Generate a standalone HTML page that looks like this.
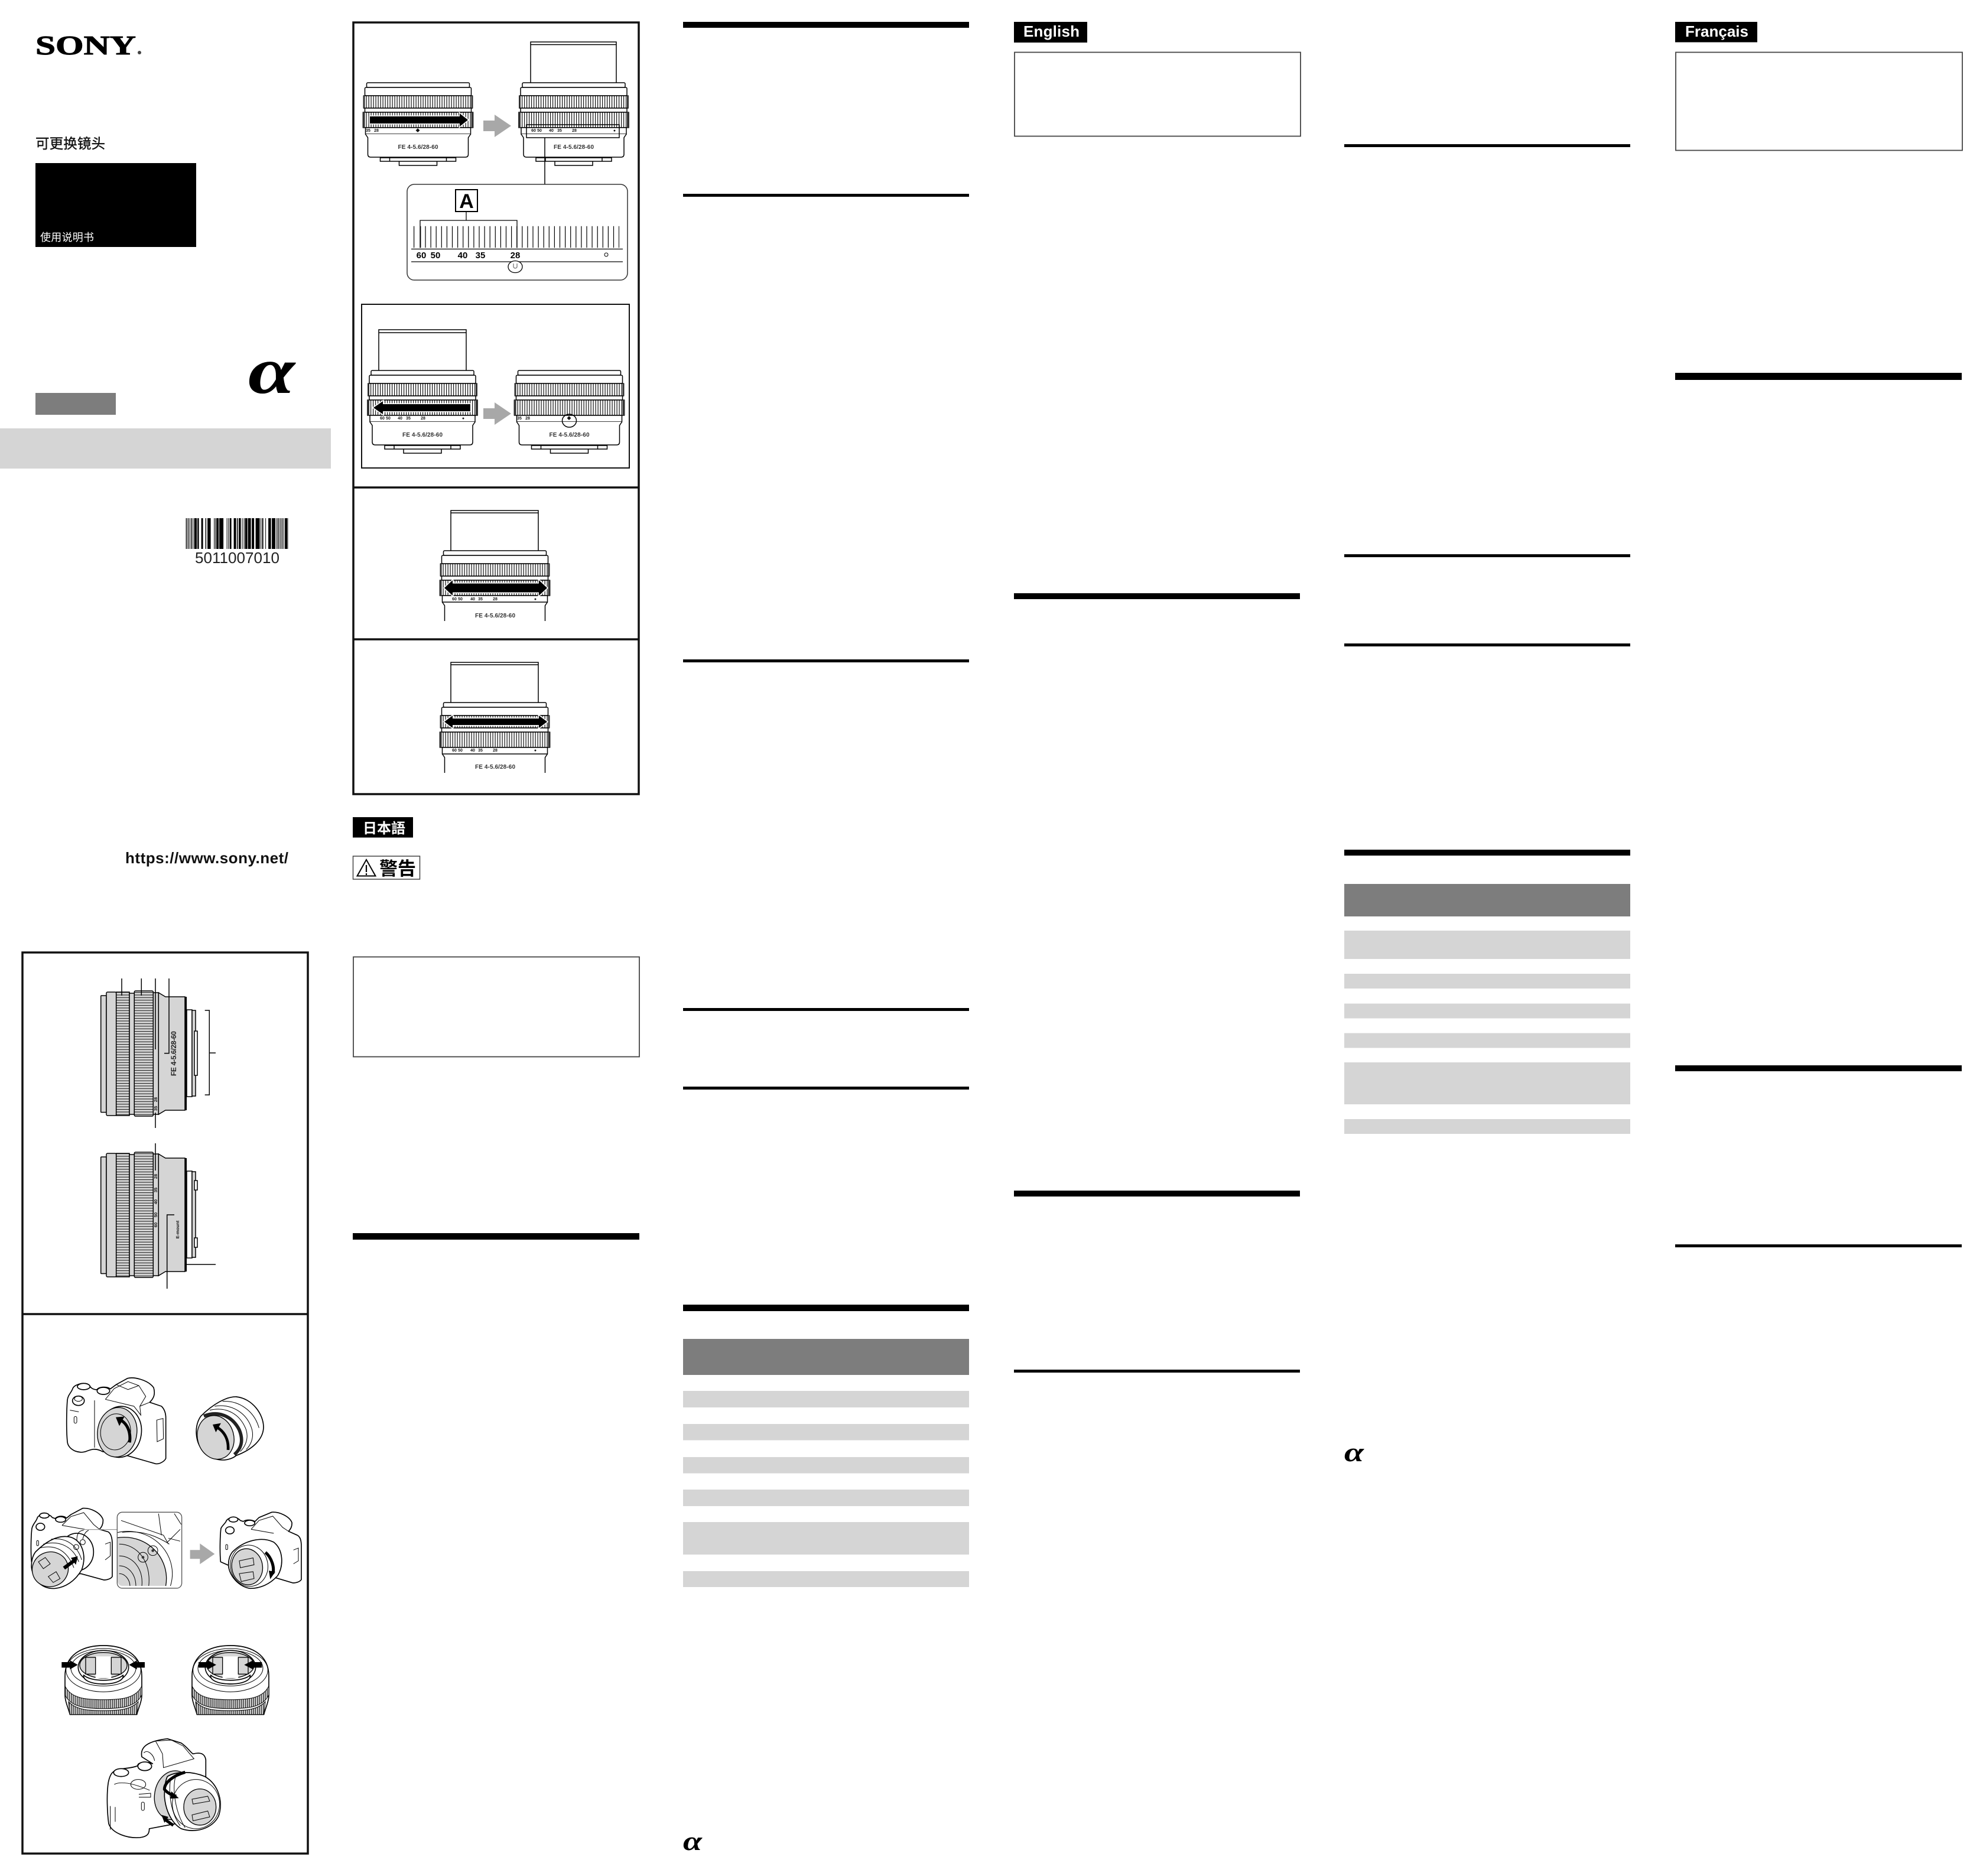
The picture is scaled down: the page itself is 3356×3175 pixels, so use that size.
<!DOCTYPE html>
<html lang="zh"><head><meta charset="utf-8"><title>SONY FE 4-5.6/28-60</title>
<style>html,body{margin:0;padding:0;background:#fff;width:3356px;height:3175px;overflow:hidden}svg{display:block}
text{font-family:"Liberation Sans","Noto Sans CJK SC",sans-serif}
.j{font-family:"Liberation Sans","Noto Sans CJK JP",sans-serif;font-weight:bold}
.fe{font-size:10px;font-weight:bold;fill:#333;text-anchor:middle}
.sc{font-size:7px;font-weight:bold;fill:#111;text-anchor:middle}
.n{font-size:15px;font-weight:bold;fill:#000;text-anchor:middle}
.a{font-family:"Liberation Serif","DejaVu Serif",serif;font-style:italic;font-weight:bold}
.o{fill:#fff;stroke:#000;stroke-width:1.5}
.g{fill:#d5d5d5;stroke:#000;stroke-width:1.5}
.k{stroke:#000;stroke-width:1.5}
.z{fill:#fff;stroke:#000;stroke-width:5;stroke-linejoin:round}
.zg{fill:#d5d5d5;stroke:#000;stroke-width:4}
.zn{fill:none;stroke:#000;stroke-width:3}
.ar{paint-order:stroke;stroke:#fff;stroke-width:3}
</style></head><body>
<svg xmlns="http://www.w3.org/2000/svg" width="3356" height="3175" viewBox="0 0 3356 3175">
<defs>
<pattern id="kv" width="4" height="10" patternUnits="userSpaceOnUse"><rect width="4" height="10" fill="#fff"/><rect width="1.2" height="10" fill="#111"/></pattern>
<pattern id="kh" width="10" height="4.4" patternUnits="userSpaceOnUse"><rect width="10" height="4.4" fill="#d5d5d5"/><rect width="10" height="1.1" fill="#222"/></pattern>
<pattern id="kz" width="10" height="10" patternUnits="userSpaceOnUse"><rect width="10" height="10" fill="#ddd"/><rect width="4" height="10" fill="#222"/></pattern>
<g id="lt">
<rect class="o" x="-87" y="0" width="174" height="8" rx="2"/>
<rect class="o" x="-90" y="8" width="180" height="14" rx="2"/>
<rect x="-92" y="22" width="184" height="21" fill="url(#kv)" class="k"/>
<rect x="-93" y="22" width="3" height="21" fill="#333"/><rect x="90" y="22" width="3" height="21" fill="#333"/>
<rect class="o" x="-90" y="43" width="180" height="7"/>
<rect x="-93" y="50" width="186" height="26" fill="url(#kv)" class="k"/>
<rect x="-94" y="50" width="4" height="26" fill="#333"/><rect x="90" y="50" width="4" height="26" fill="#333"/>
<rect class="o" x="-89" y="76" width="178" height="11"/>
</g>
<g id="lb">
<path class="o" d="M-89 87L-85 93V121Q-85 126 -80 126H80Q85 126 85 121V93L89 87"/>
<path class="o" d="M-64 127H64V133H-64Z M-32 133H32V140H-32Z M-48 126V133M48 126V133"/>
</g>
<g id="lc"><path class="o" d="M-89 87L-85 93V119M89 87L85 93V119" fill="none"/></g>
<g id="ls">
<rect class="g" x="-29.3" y="6" width="9.3" height="197.5" rx="1"/>
<rect class="g" x="-20" y="0" width="16.7" height="209" rx="2"/>
<rect x="-3.3" y="0" width="22.3" height="209" fill="url(#kh)" class="k"/>
<rect class="g" x="19" y="2" width="8.3" height="205"/>
<rect x="27.3" y="-2" width="32" height="212" rx="2" fill="url(#kh)" class="k"/>
<rect class="g" x="59.3" y="1" width="9" height="206"/>
<path class="g" d="M68.3 1L80 8H113V200H80L68.3 207Z"/>
<rect x="113" y="8" width="3" height="192" fill="#000"/>
<rect class="o" x="116" y="30" width="9" height="147"/>
<rect class="g" x="125" y="31" width="6" height="145"/>
</g>
</defs>

<!-- cover -->
<text x="60" y="92" font-size="46" font-weight="bold" textLength="170" lengthAdjust="spacingAndGlyphs" style="font-family:'Liberation Serif',serif" stroke="#000" stroke-width="1">SONY</text>
<circle cx="236" cy="89" r="3" fill="#444"/>
<text x="60" y="251" font-size="23.5" fill="#111" stroke="#111" stroke-width=".4" textLength="118">可更换镜头</text>
<rect x="60" y="276" width="272" height="142" fill="#000"/>
<text x="68" y="408" font-size="18" fill="#fff" textLength="91">使用说明书</text>
<rect x="60" y="665" width="136" height="37" fill="#7d7d7d"/>
<rect x="0" y="725" width="560" height="68" fill="#d5d5d5"/>
<text class="a" x="420" y="665" font-size="112" textLength="79" lengthAdjust="spacingAndGlyphs">α</text>
<line x1="314.6" y1="903" x2="488" y2="903" stroke="#000" stroke-width="52" stroke-dasharray="1.5 1.5 1.5 1.5 1 1.5 1.5 1.5 1 1.5 4.5 1 2.5 4 3 4 1.5 2 5.5 5.5 1 1 1 1 4 1 7 5.5 1 1.5 1 1.5 3 4 4 1.5 1.5 1.5 3.5 2 1 2 1 1 4 1 5 1.5 4 2.5 7 1.5 1 1.5 2 3.5 1 4 4.5 1.5 6 2"/>
<text x="330" y="953" font-size="26" textLength="143" fill="#222">5011007010</text>
<text x="212" y="1461" font-size="26" font-weight="bold" textLength="276" fill="#111">https://www.sony.net/</text>

<!-- left lower frame -->
<rect x="38" y="1612" width="483" height="1525" fill="none" stroke="#111" stroke-width="3.5"/>
<line x1="38" y1="2224" x2="521" y2="2224" stroke="#111" stroke-width="3.5"/>
<g transform="translate(200,1679)"><use href="#ls"/></g>
<g transform="translate(200,1952)"><use href="#ls"/></g>
<g fill="none" stroke="#000" stroke-width="1.5">
<path d="M206 1656V1685M239.3 1656V1685M263 1656V1776M286 1656V1782.6H278M263 1883V1909M346.7 1710H354.3V1853H346.7M354.3 1782H365M263 1935V1981M282.7 2181V2056H295M313 2140H365"/>
</g>
<text transform="translate(298,1783) rotate(-90)" font-size="12" font-weight="bold" text-anchor="middle" textLength="76" fill="#222">FE 4-5.6/28-60</text>
<g font-size="7.5" font-weight="bold" text-anchor="middle" fill="#111">
<text transform="translate(266,1861) rotate(-90)">28</text><text transform="translate(266,1876) rotate(-90)">35</text>
<text transform="translate(266,1991) rotate(-90)">28</text><text transform="translate(266,2014) rotate(-90)">35</text>
<text transform="translate(266,2034) rotate(-90)">40</text><text transform="translate(266,2056) rotate(-90)">50</text><text transform="translate(266,2073) rotate(-90)">60</text>
<text transform="translate(303,2081) rotate(-90)">E-mount</text></g>
<rect x="329" y="1745" width="5" height="75" class="o"/>
<rect x="329" y="1998" width="5" height="16" class="o"/><rect x="329" y="2095" width="5" height="16" class="o"/>

<!-- cameras: zoom coords -->
<g transform="translate(30,2280) scale(.3333)">
<!-- camera A -->
<path class="z" d="M252 480C246 420 248 320 252 268C256 240 272 232 280 208C290 188 345 172 365 195C372 212 392 216 402 216C412 200 455 198 470 212L500 190L558 158C590 150 660 165 690 205C700 240 690 260 670 280L730 300C745 315 752 335 752 360L752 565C745 580 720 595 700 592L560 552L430 530C395 510 370 520 350 528C310 545 255 520 252 480Z"/>
<path class="zn" d="M445 265L490 210L560 175L615 195L650 250L620 300L625 345L590 300L445 265M500 190L560 215L615 195M620 300L670 280M390 270V510M265 320L310 328M706 370L738 362L740 465L708 480Z"/>
<ellipse class="z" cx="335" cy="200" rx="32" ry="16"/><ellipse class="z" cx="435" cy="222" rx="32" ry="18"/>
<ellipse class="z" cx="308" cy="272" rx="30" ry="24"/><ellipse class="zn" cx="308" cy="262" rx="20" ry="13"/>
<rect class="zn" x="286" y="352" width="14" height="34" rx="7"/>
<ellipse class="z" cx="520" cy="430" rx="108" ry="130" transform="rotate(8 520 430)"/>
<ellipse class="zg" cx="505" cy="432" rx="100" ry="126" transform="rotate(8 505 432)"/>
<ellipse class="zn" cx="497" cy="430" rx="76" ry="92" transform="rotate(8 497 430)"/>
<path d="M568 484C576 430 555 385 518 368" fill="none" stroke="#000" stroke-width="15"/><path d="M498 356L542 352L516 400Z"/>
<!-- lens B -->
<path class="z" d="M930 350C990 290 1060 250 1110 252C1190 260 1250 340 1248 410C1245 470 1190 520 1110 550C1060 590 980 575 940 525C900 480 895 400 930 350Z"/>
<path class="zn" d="M975 320C1060 300 1130 340 1160 420C1175 470 1150 510 1130 530M1000 300C1080 285 1165 330 1190 420C1200 465 1180 500 1160 520M1040 275C1120 270 1200 320 1225 410"/>
<path d="M945 350C1020 320 1090 350 1125 420C1150 480 1130 520 1100 545" fill="none" stroke="#222" stroke-width="17"/>
<ellipse class="zg" cx="1005" cy="458" rx="92" ry="112" transform="rotate(-15 1005 458)"/>
<path d="M1068 522C1072 470 1050 430 1014 408" fill="none" stroke="#000" stroke-width="14"/><path d="M990 393L1032 386L1006 432Z"/>
<!-- camera C -->
<g>
<path class="z" d="M70 1090C65 1030 68 950 72 920C78 895 95 885 100 865C115 840 165 845 175 865L190 870C205 855 235 855 248 868L270 850L330 818C370 815 420 840 433 875C435 900 425 915 415 925L460 938C478 950 480 980 480 1000L480 1165C470 1180 440 1185 430 1180L320 1150L120 1190Z"/>
<path class="zn" d="M225 905L270 860L335 840L385 900L415 925M225 905L340 925M444 1000L470 990V1060L444 1080"/>
<ellipse class="z" cx="135" cy="855" rx="24" ry="13"/><ellipse class="z" cx="218" cy="875" rx="26" ry="14"/><ellipse class="z" cx="115" cy="912" rx="22" ry="18"/>
<rect class="zn" x="96" y="982" width="10" height="26" rx="5"/>
<ellipse class="z" cx="300" cy="1040" rx="85" ry="95"/>
<path class="z" d="M90 1040C150 980 210 950 270 965C330 985 350 1060 325 1130C290 1190 240 1220 190 1225C130 1230 80 1190 70 1120C68 1090 75 1060 90 1040Z"/>
<path class="zn" d="M130 1000C210 980 280 1010 310 1090M170 975C240 965 300 1000 325 1080M110 1020C190 1000 250 1030 285 1120"/>
<ellipse class="zg" cx="165" cy="1128" rx="92" ry="88" transform="rotate(-20 165 1128)"/>
<path class="zn" d="M105 1090L140 1068L165 1100L130 1125ZM155 1165L195 1140L215 1175L180 1195Z"/>
<path d="M235 1122L285 1085" stroke="#000" stroke-width="18"/><path d="M305 1062L270 1070L295 1105Z"/>
<circle class="zn" cx="297" cy="1015" r="13"/><circle class="zn" cx="330" cy="990" r="13"/>
<path class="zn" d="M300 980C300 950 310 930 335 930M330 975C335 955 345 935 360 930"/>
</g>
<line x1="340" y1="926" x2="505" y2="926" stroke="#999" stroke-width="4"/>
<!-- callout -->
<clipPath id="cc"><rect x="507" y="840" width="325" height="372" rx="24"/></clipPath>
<rect x="505" y="838" width="328" height="386" rx="26" fill="#fff" stroke="#555" stroke-width="4"/>
<g clip-path="url(#cc)">
<ellipse cx="560" cy="1150" rx="225" ry="215" fill="#fff" stroke="#000" stroke-width="3"/>
<ellipse cx="540" cy="1175" rx="215" ry="210" fill="#d5d5d5" stroke="#000" stroke-width="4"/>
<path class="zn" d="M525 880L740 955L765 1000M715 845L730 955M795 845L830 900M530 940C620 930 690 950 770 1000M515 1000C600 1000 680 1080 665 1215M515 1060C580 1060 640 1120 630 1215M515 1110C560 1110 600 1150 600 1215M515 1150C545 1150 570 1180 570 1215M760 990L825 925M765 970L825 985"/>
<circle class="zn" cx="636" cy="1067" r="25"/><circle class="zn" cx="686" cy="1033" r="25"/>
<circle cx="636" cy="1067" r="7" fill="#333"/><circle cx="686" cy="1033" r="7" fill="#333"/>
</g>
<path d="M875 1030H925V997L1000 1050L925 1102V1075H875Z" fill="#a8a8a8"/>
<!-- camera D -->
<g>
<path class="z" d="M1030 1090C1025 1030 1028 950 1032 920C1038 905 1055 895 1060 880C1075 860 1115 860 1130 880L1145 885C1160 875 1185 875 1205 885L1225 865L1290 838C1330 835 1380 860 1392 890C1394 910 1385 925 1375 935L1420 955C1438 965 1440 990 1440 1010L1440 1180C1430 1195 1400 1200 1390 1195L1290 1165L1120 1130Z"/>
<path class="zn" d="M1185 925L1225 880L1295 858L1345 915L1375 935M1185 925L1300 945M1400 1030L1425 1020V1085L1400 1100"/>
<ellipse class="z" cx="1095" cy="875" rx="23" ry="13"/><ellipse class="z" cx="1178" cy="893" rx="26" ry="14"/><ellipse class="z" cx="1077" cy="930" rx="22" ry="18"/>
<rect class="zn" x="1056" y="1002" width="10" height="26" rx="5"/>
<path class="z" d="M1090 1040C1150 980 1240 960 1300 990C1350 1030 1350 1110 1320 1160C1280 1205 1230 1225 1180 1225C1120 1215 1075 1160 1070 1110C1070 1080 1075 1060 1090 1040Z"/>
<ellipse class="zg" cx="1165" cy="1115" rx="78" ry="92" transform="rotate(-10 1165 1115)"/>
<ellipse class="zn" cx="1175" cy="1110" rx="95" ry="105" transform="rotate(-10 1175 1110)"/>
<path class="zn" d="M1125 1085L1195 1070L1200 1105L1130 1120ZM1125 1150L1195 1140L1200 1175L1135 1190Z"/>
<path d="M1258 1042C1290 1070 1305 1120 1295 1150" fill="none" stroke="#000" stroke-width="15"/><path d="M1282 1178L1308 1140L1275 1135Z"/>
</g>
</g>

<g transform="translate(30,2720) scale(.3333)">
<!-- cap lenses -->
<g>
<path class="z" d="M240 350C240 240 330 195 435 195C540 195 630 240 630 350V445C630 480 612 515 605 545H265C258 515 240 480 240 445Z"/>
<path d="M240 400C270 465 350 470 435 470C520 470 600 465 630 400V445C600 510 520 515 435 515C350 515 270 510 240 445Z" fill="url(#kz)" stroke="#000" stroke-width="3"/>
<path d="M258 480C300 525 370 525 435 525C500 525 570 525 612 480L605 545H265Z" fill="url(#kz)" stroke="#000" stroke-width="3"/>
<ellipse class="zn" cx="435" cy="320" rx="190" ry="110"/><ellipse class="zn" cx="435" cy="310" rx="165" ry="90"/>
<ellipse class="z" cx="435" cy="305" rx="128" ry="85"/>
<ellipse class="zg" cx="435" cy="295" rx="120" ry="65"/>
<path class="z" d="M335 345C370 380 500 380 535 345C540 370 500 390 435 390C370 390 330 370 335 345Z"/>
<rect x="395" y="250" width="80" height="110" fill="#fff"/>
<rect class="zg" x="345" y="255" width="50" height="85"/><rect class="zg" x="475" y="255" width="50" height="85"/>
</g>
<path d="M223 279H265V270L305 293L265 316V307H223ZM645 279H605V270L565 293L605 316V307H645Z"/>
<g transform="translate(645,0)">
<path class="z" d="M240 350C240 240 330 195 435 195C540 195 630 240 630 350V445C630 480 612 515 605 545H265C258 515 240 480 240 445Z"/>
<path d="M240 400C270 465 350 470 435 470C520 470 600 465 630 400V445C600 510 520 515 435 515C350 515 270 510 240 445Z" fill="url(#kz)" stroke="#000" stroke-width="3"/>
<path d="M258 480C300 525 370 525 435 525C500 525 570 525 612 480L605 545H265Z" fill="url(#kz)" stroke="#000" stroke-width="3"/>
<ellipse class="zn" cx="435" cy="320" rx="190" ry="110"/><ellipse class="zn" cx="435" cy="310" rx="165" ry="90"/>
<ellipse class="z" cx="435" cy="305" rx="128" ry="85"/>
<ellipse class="zg" cx="435" cy="295" rx="120" ry="65"/>
<path class="z" d="M335 345C370 380 500 380 535 345C540 370 500 390 435 390C370 390 330 370 335 345Z"/>
<rect x="395" y="250" width="80" height="110" fill="#fff"/>
<rect class="zg" x="345" y="255" width="50" height="85"/><rect class="zg" x="475" y="255" width="50" height="85"/>
</g>
<path d="M918 279H965V270L1008 293L965 316V307H918ZM1240 279H1195V270L1150 293L1195 316V307H1240Z"/>
<!-- camera E -->
<path class="z" d="M460 890C470 840 485 830 520 822C550 818 590 815 610 805C605 790 650 780 685 795L630 760C620 710 660 680 760 668L830 690C860 710 880 740 890 745C930 735 950 745 955 775L955 860L960 1000L800 1100L668 1125C668 1150 660 1165 620 1170C560 1175 480 1150 462 1100C455 1050 450 950 460 890Z"/>
<path class="zn" d="M700 680L780 675L840 705L895 770L740 815L735 745L700 680M640 740C660 720 690 750 695 780M490 900C530 880 600 900 670 930M615 950L675 945V965L615 965M470 1010V1130M495 1090V1015"/>
<ellipse class="z" cx="525" cy="840" rx="38" ry="20"/><ellipse class="z" cx="645" cy="808" rx="35" ry="22"/>
<ellipse class="zn" cx="612" cy="900" rx="38" ry="25"/>
<rect class="zn" x="628" y="990" width="15" height="42" rx="7"/>
<ellipse class="zg" cx="790" cy="955" rx="95" ry="125" transform="rotate(10 790 955)"/>
<path class="z" d="M760 860C800 835 880 830 950 860C1020 900 1045 990 1020 1060C990 1125 900 1150 830 1125C780 1095 750 1030 745 960C745 920 750 880 760 860Z"/>
<path class="zn" d="M775 880C765 950 780 1050 825 1110M800 865C785 930 800 1040 850 1120"/>
<ellipse class="zn" cx="905" cy="1000" rx="120" ry="125"/>
<ellipse class="zg" cx="925" cy="1015" rx="82" ry="92"/>
<path class="zn" d="M885 975L965 960L975 985L890 1000ZM885 1055L965 1035L975 1065L890 1085Z"/>
<path d="M850 838C790 855 745 890 745 925C760 945 785 955 805 960" fill="none" stroke="#000" stroke-width="15"/><path d="M818 970L780 935L775 972Z"/>
<path d="M790 1108L750 1080" stroke="#000" stroke-width="15"/><path d="M730 1055L765 1065L745 1095Z"/>
</g>

<!-- top middle frame -->
<rect x="598" y="38" width="483" height="1306" fill="none" stroke="#111" stroke-width="3.5"/>
<line x1="598" y1="825" x2="1081" y2="825" stroke="#111" stroke-width="3.5"/>
<line x1="598" y1="1082" x2="1081" y2="1082" stroke="#111" stroke-width="3.5"/>
<rect x="612" y="515" width="453" height="277" fill="none" stroke="#111" stroke-width="2"/>

<!-- lens 1 -->
<g transform="translate(707.5,140)"><use href="#lt"/><use href="#lb"/></g>
<text class="fe" x="707.5" y="252" textLength="68">FE 4-5.6/28-60</text>
<text class="sc" x="623" y="223">35</text><text class="sc" x="637" y="223">28</text><text class="sc" x="707" y="223">◆</text>
<path class="ar" d="M626 197H778V192L792 203L778 214V209H626Z" fill="#000"/>
<path d="M818 204H837V194L865 213L837 232V222H818Z" fill="#a8a8a8"/>
<!-- lens 2 -->
<path class="o" d="M898 140V71H1043V140M898 75.5H1043" stroke-width="2"/>
<g transform="translate(971,140)"><use href="#lt"/><use href="#lb"/></g>
<rect x="891" y="211" width="157" height="22" fill="none" stroke="#000" stroke-width="1.5"/>
<text class="fe" x="971" y="252" textLength="68">FE 4-5.6/28-60</text>
<text class="sc" x="903" y="223">60</text><text class="sc" x="913" y="223">50</text><text class="sc" x="933" y="223">40</text><text class="sc" x="947" y="223">35</text><text class="sc" x="972" y="223">28</text><text class="sc" x="1040" y="223">●</text>
<line x1="922" y1="233" x2="922" y2="312" stroke="#000" stroke-width="1.5"/>
<!-- callout -->
<rect x="689" y="312" width="373" height="162" rx="12" fill="#fff" stroke="#333" stroke-width="1.5"/>
<rect x="771" y="321" width="37" height="37" fill="#fff" stroke="#000" stroke-width="2"/>
<text x="789.5" y="352" font-size="34" font-weight="bold" text-anchor="middle">A</text>
<path d="M789 358V373M711 419.5V373H875V419.5" fill="none" stroke="#000" stroke-width="1.3"/>
<line x1="700" y1="401" x2="1048" y2="401" stroke="#000" stroke-width="36.5" stroke-dasharray="1.2 10 1.2 7 1.2 7.9 1.2 7.9 1.2 7.9 1.2 7.9 1.2 7.9 1.2 7.9 1.2 7.9 1.2 7.9 1.2 7.9 1.2 7.9 1.2 7.9 1.2 7.9 1.2 7.9 1.2 7.9 1.2 7.9 1.2 7.9 1.2 7.9 1.2 7.9 1.2 7.9 1.2 7.9 1.2 7.9 1.2 7.9 1.2 7.9 1.2 7.9 1.2 7.9 1.2 7.9 1.2 7.9 1.2 7.9 1.2 7.9 1.2 7.9 1.2 7.9 1.2 7.9 1.2 7.9 1.2 7.9 1.2 7.9 1.2 7.9 1.2 7.9"/>
<path d="M696 421.5H1054M696 443H1054" stroke="#000" stroke-width="1.3"/>
<text class="n" x="713" y="437">60</text><text class="n" x="737" y="437">50</text><text class="n" x="783" y="437">40</text><text class="n" x="813" y="437">35</text><text class="n" x="872" y="437">28</text>
<circle cx="1026" cy="431" r="3" fill="none" stroke="#000" stroke-width="1"/>
<ellipse cx="872" cy="451.5" rx="12" ry="10" fill="#fff" stroke="#000" stroke-width="1.3"/>
<path d="M869 446V452Q872 456 875 452V446" fill="none" stroke="#777" stroke-width="1.3"/>
<!-- lens 3 -->
<path class="o" d="M641 627V558H789V627M641 563H789" stroke-width="2"/>
<g transform="translate(715,627)"><use href="#lt"/><use href="#lb"/></g>
<text class="fe" x="715" y="739" textLength="68">FE 4-5.6/28-60</text>
<text class="sc" x="647" y="710">60</text><text class="sc" x="657" y="710">50</text><text class="sc" x="677" y="710">40</text><text class="sc" x="691" y="710">35</text><text class="sc" x="716" y="710">28</text><text class="sc" x="784" y="710">●</text>
<path class="ar" d="M796 684H648V679L632 690L648 701V696H796Z" fill="#000"/>
<path d="M818 691H837V681L865 700L837 719V709H818Z" fill="#a8a8a8"/>
<!-- lens 4 -->
<g transform="translate(963.5,627)"><use href="#lt"/><use href="#lb"/></g>
<text class="fe" x="963.5" y="739" textLength="68">FE 4-5.6/28-60</text>
<text class="sc" x="879" y="710">35</text><text class="sc" x="893" y="710">28</text><text class="sc" x="963" y="710">◆</text>
<ellipse cx="963.5" cy="712" rx="12" ry="11" fill="none" stroke="#000" stroke-width="1.5"/>
<!-- lens 5 -->
<path class="o" d="M763 932V864H911V932M763 868H911" stroke-width="2"/>
<g transform="translate(837.5,932)"><use href="#lt"/><use href="#lc"/></g>
<text class="fe" x="838" y="1045" textLength="68">FE 4-5.6/28-60</text>
<text class="sc" x="769" y="1016">60</text><text class="sc" x="779" y="1016">50</text><text class="sc" x="800" y="1016">40</text><text class="sc" x="813" y="1016">35</text><text class="sc" x="838" y="1016">28</text><text class="sc" x="906" y="1016">●</text>
<path class="ar" d="M766 982L752 995L766 1008V1002.5H912V1008L926 995L912 982V987.5H766Z" fill="#000"/>
<!-- lens 6 -->
<path class="o" d="M763 1189V1121H911V1189M763 1125H911" stroke-width="2"/>
<g transform="translate(837.5,1189)"><use href="#lt"/><use href="#lc"/></g>
<text class="fe" x="838" y="1301" textLength="68">FE 4-5.6/28-60</text>
<text class="sc" x="769" y="1272">60</text><text class="sc" x="779" y="1272">50</text><text class="sc" x="800" y="1272">40</text><text class="sc" x="813" y="1272">35</text><text class="sc" x="838" y="1272">28</text><text class="sc" x="906" y="1272">●</text>
<path class="ar" d="M766 1211L752 1221.5L766 1232V1227H912V1232L926 1221.5L912 1211V1216H766Z" fill="#000"/>

<!-- col 2 lower -->
<rect x="597" y="1383" width="102" height="34.5" fill="#000"/>
<text class="j" x="614" y="1410" font-size="24" fill="#fff">日本語</text>
<rect x="597.5" y="1449" width="113" height="39" fill="#fff" stroke="#444" stroke-width="1.5"/>
<path d="M620 1455L604.5 1482.5H635.5Z" fill="none" stroke="#000" stroke-width="2"/>
<path d="M620 1464V1476M620 1478V1481" stroke="#000" stroke-width="2.2"/>
<text class="j" x="642" y="1481" font-size="31">警告</text>
<rect x="598" y="1619.5" width="484" height="169" fill="none" stroke="#444" stroke-width="1.8"/>
<rect x="597" y="2087" width="485" height="11" fill="#000"/>

<!-- col 3 -->
<g fill="#000">
<rect x="1156" y="37" width="484" height="10"/>
<rect x="1156" y="328" width="484" height="5"/>
<rect x="1156" y="1116" width="484" height="5"/>
<rect x="1156" y="1706" width="484" height="5"/>
<rect x="1156" y="1839" width="484" height="5"/>
<rect x="1156" y="2208" width="484" height="11"/>
<rect x="1716" y="1004" width="484" height="10"/>
<rect x="1716" y="2015" width="484" height="10"/>
<rect x="1716" y="2318" width="484" height="5"/>
<rect x="2275" y="244" width="484" height="5"/>
<rect x="2275" y="938" width="484" height="5"/>
<rect x="2275" y="1089" width="484" height="5"/>
<rect x="2275" y="1438" width="484" height="10"/>
<rect x="2835" y="631" width="485" height="12"/>
<rect x="2835" y="1803" width="485" height="10"/>
<rect x="2835" y="2106" width="485" height="5"/>
</g>
<rect x="1156" y="2266" width="484" height="61" fill="#7d7d7d"/>
<g fill="#d5d5d5">
<rect x="1156" y="2354" width="484" height="28"/><rect x="1156" y="2410" width="484" height="27.5"/>
<rect x="1156" y="2466" width="484" height="27.5"/><rect x="1156" y="2521" width="484" height="28"/>
<rect x="1156" y="2576" width="484" height="55"/><rect x="1156" y="2659" width="484" height="27"/>
</g>
<text class="a" x="1156" y="3131" font-size="46" textLength="32" lengthAdjust="spacingAndGlyphs">α</text>

<!-- col 4 -->
<rect x="1716" y="37" width="124" height="35" fill="#000"/>
<text x="1732" y="62" font-size="26" font-weight="bold" fill="#fff" textLength="95">English</text>
<rect x="1717" y="88.5" width="484" height="142" fill="none" stroke="#444" stroke-width="1.8"/>

<!-- col 5 -->
<rect x="2275" y="1496" width="484" height="55" fill="#7d7d7d"/>
<g fill="#d5d5d5">
<rect x="2275" y="1575" width="484" height="48"/><rect x="2275" y="1648" width="484" height="25"/>
<rect x="2275" y="1698.5" width="484" height="25"/><rect x="2275" y="1748.5" width="484" height="25"/>
<rect x="2275" y="1798" width="484" height="71"/><rect x="2275" y="1894" width="484" height="25"/>
</g>
<text class="a" x="2275" y="2473" font-size="46" textLength="33" lengthAdjust="spacingAndGlyphs">α</text>

<!-- col 6 -->
<rect x="2835" y="37" width="139" height="34.5" fill="#000"/>
<text x="2852" y="62" font-size="26" font-weight="bold" fill="#fff" textLength="107">Français</text>
<rect x="2836" y="88.5" width="485" height="166" fill="none" stroke="#444" stroke-width="1.8"/>
</svg>
</body></html>
